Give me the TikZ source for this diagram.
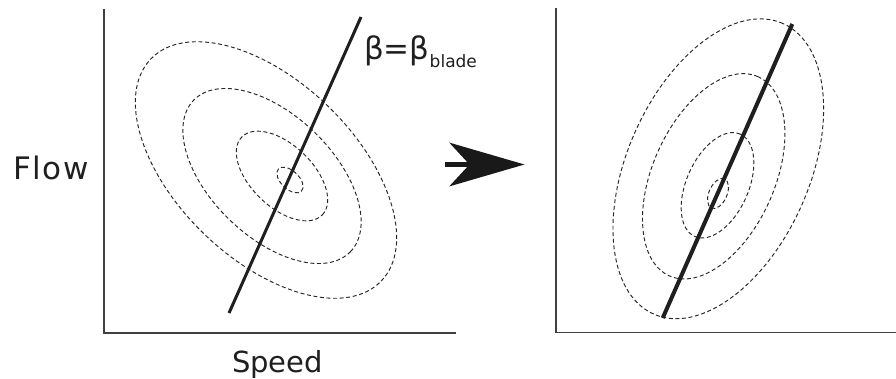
\documentclass[tikz,border=0pt]{standalone}
\usepackage{fontspec}
\setmainfont{DejaVu Sans}
\usepackage{tikz}
\usetikzlibrary{arrows.meta, positioning}

\begin{document}
\begin{tikzpicture}[
  x=1pt, y=1pt,
  axis/.style={draw=black!75, line width=1.8pt},
  blade/.style={draw=black!88, line width=3pt},
  contour/.style={draw=black!85, line width=0.95pt, dash pattern=on 4pt off 2.6pt},
  lbl/.style={inner sep=0pt, anchor=base, text=black!88},
  arr/.style={-{Stealth[length=75pt, width=43.5pt, inset=20pt]}, line width=4.4pt, black!90}
]
  \useasboundingbox (0,0) rectangle (896,378);
  % left panel
  \coordinate (ltop) at (104,369);
  \coordinate (lo) at (104,45);
  \coordinate (lend) at (456,45);
  \draw[axis] (ltop) -- (lo) -- (lend);
  \draw[contour, rotate around={-44:(266,208)}] (266,208) ellipse [x radius=160, y radius=89];
  \draw[contour, rotate around={-44:(272,202)}] (272,202) ellipse [x radius=109, y radius=61];
  \draw[contour, rotate around={-44:(282,202)}] (282,202) ellipse [x radius=56, y radius=31];
  \draw[contour, rotate around={-44:(290,198)}] (290,198) ellipse [x radius=16, y radius=9];
  \coordinate (lb1) at (229,65);
  \coordinate (lb2) at (361,361);
  \draw[blade] (lb1) -- (lb2);
  \node[lbl, anchor=base west, font=\fontsize{31}{36}\selectfont] (beta) at (364,318)
    {β=β\raisebox{-8pt}{\fontsize{17}{18}\selectfont blade}};
  \node[lbl, font=\fontsize{31}{36}\selectfont\addfontfeature{LetterSpace=5}] (flow) at (51,198) {Flow};
  \node[lbl, font=\fontsize{29}{34}\selectfont] (speed) at (277.5,6) {Speed};
  % arrow between the panels
  \coordinate (as) at (445,213.5);
  \coordinate (ae) at (524.5,213.5);
  \draw[arr] (as) -- (ae);
  % right panel
  \coordinate (rtop) at (556,370);
  \coordinate (ro) at (556,45.5);
  \coordinate (rend) at (896,45.5);
  \draw[axis] (rtop) -- (ro) -- (rend);
  \draw[contour, rotate around={66:(718.3,209.2)}] (718.3,209.2) ellipse [x radius=159, y radius=91];
  \draw[contour, rotate around={66:(713.7,201.7)}] (713.7,201.7) ellipse [x radius=109, y radius=61];
  \draw[contour, rotate around={66:(717.5,192.7)}] (717.5,192.7) ellipse [x radius=56, y radius=31];
  \draw[contour, rotate around={66:(718,184.5)}] (718,184.5) ellipse [x radius=16, y radius=9];
  \coordinate (rb1) at (662.7,60);
  \coordinate (rb2) at (792.3,354);
  \draw[blade, line width=4pt] (rb1) -- (rb2);
\end{tikzpicture}
\end{document}
